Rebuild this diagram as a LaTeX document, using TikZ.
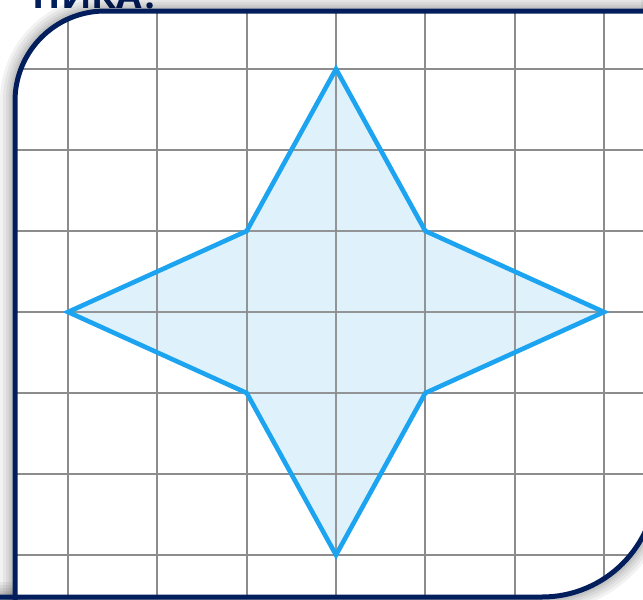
\documentclass[tikz,border=0pt]{standalone}
\usepackage{fontspec}
\newfontfamily\titlefont{Open Sans}
\definecolor{navy}{RGB}{2,30,92}
\definecolor{gridgray}{RGB}{140,140,140}
\definecolor{starline}{RGB}{28,164,240}
\definecolor{starfill}{RGB}{218,240,252}
\tikzset{
  gridline/.style={gridgray, line width=2.2pt},
  frameline/.style={navy, line width=5pt},
  shadowline/.style={black, line width=#1, opacity=0.05},
}
\begin{document}
\begin{tikzpicture}[x=1pt,y=-1pt]
\useasboundingbox (0,0) rectangle (643,600);
\clip (0,0) rectangle (643,600);
\fill[white] (0,0) rectangle (643,600);
% title text (mostly hidden above the picture)
\node[anchor=base east, inner sep=0pt, text=navy, font=\titlefont\bfseries\fontsize{37}{40}\selectfont] (title) at (160,8) {НИКА?};
% shadow
\foreach \w in {30,24,18,13,9} {
  \draw[shadowline=\w pt] (15,640) [rounded corners=90pt] -- (15,11) [sharp corners] -- (700,11);
  \draw[shadowline=\w pt] (656,-20) [rounded corners=114pt] -- (656,597) [sharp corners] -- (-30,597);
}
% interior
\begin{scope}
\clip (15,640) [rounded corners=90pt] -- (15,11) [sharp corners] -- (656,11) [rounded corners=114pt] -- (656,597) [sharp corners] -- (15,597) -- cycle;
\fill[white] (0,0) rectangle (700,700);
\foreach \i in {0,...,6} {
  \draw[gridline] ({68+89.33*\i},0) -- ({68+89.33*\i},640);
  \draw[gridline] (0,{69+81*\i}) -- (700,{69+81*\i});
}
\coordinate (t) at (336,69);
\coordinate (tr) at (425.3,231);
\coordinate (r) at (604,312);
\coordinate (br) at (425.3,393);
\coordinate (b) at (336,555);
\coordinate (bl) at (246.7,393);
\coordinate (l) at (68,312);
\coordinate (tl) at (246.7,231);
\fill[starfill, opacity=0.85] (t) -- (tr) -- (r) -- (br) -- (b) -- (bl) -- (l) -- (tl) -- cycle;
\foreach \i in {0,...,6} {
  \draw[gridline, opacity=0.9] ({68+89.33*\i},0) -- ({68+89.33*\i},640);
  \draw[gridline, opacity=0.9] (0,{69+81*\i}) -- (700,{69+81*\i});
}
\draw[draw=starline, line width=4.6pt, line join=miter] (t) -- (tr) -- (r) -- (br) -- (b) -- (bl) -- (l) -- (tl) -- cycle;
\end{scope}
% frame
\draw[frameline] (15,640) [rounded corners=90pt] -- (15,11) [sharp corners] -- (700,11);
\draw[frameline] (656,-20) [rounded corners=114pt] -- (656,597) [sharp corners] -- (-30,597);
\end{tikzpicture}
\end{document}
